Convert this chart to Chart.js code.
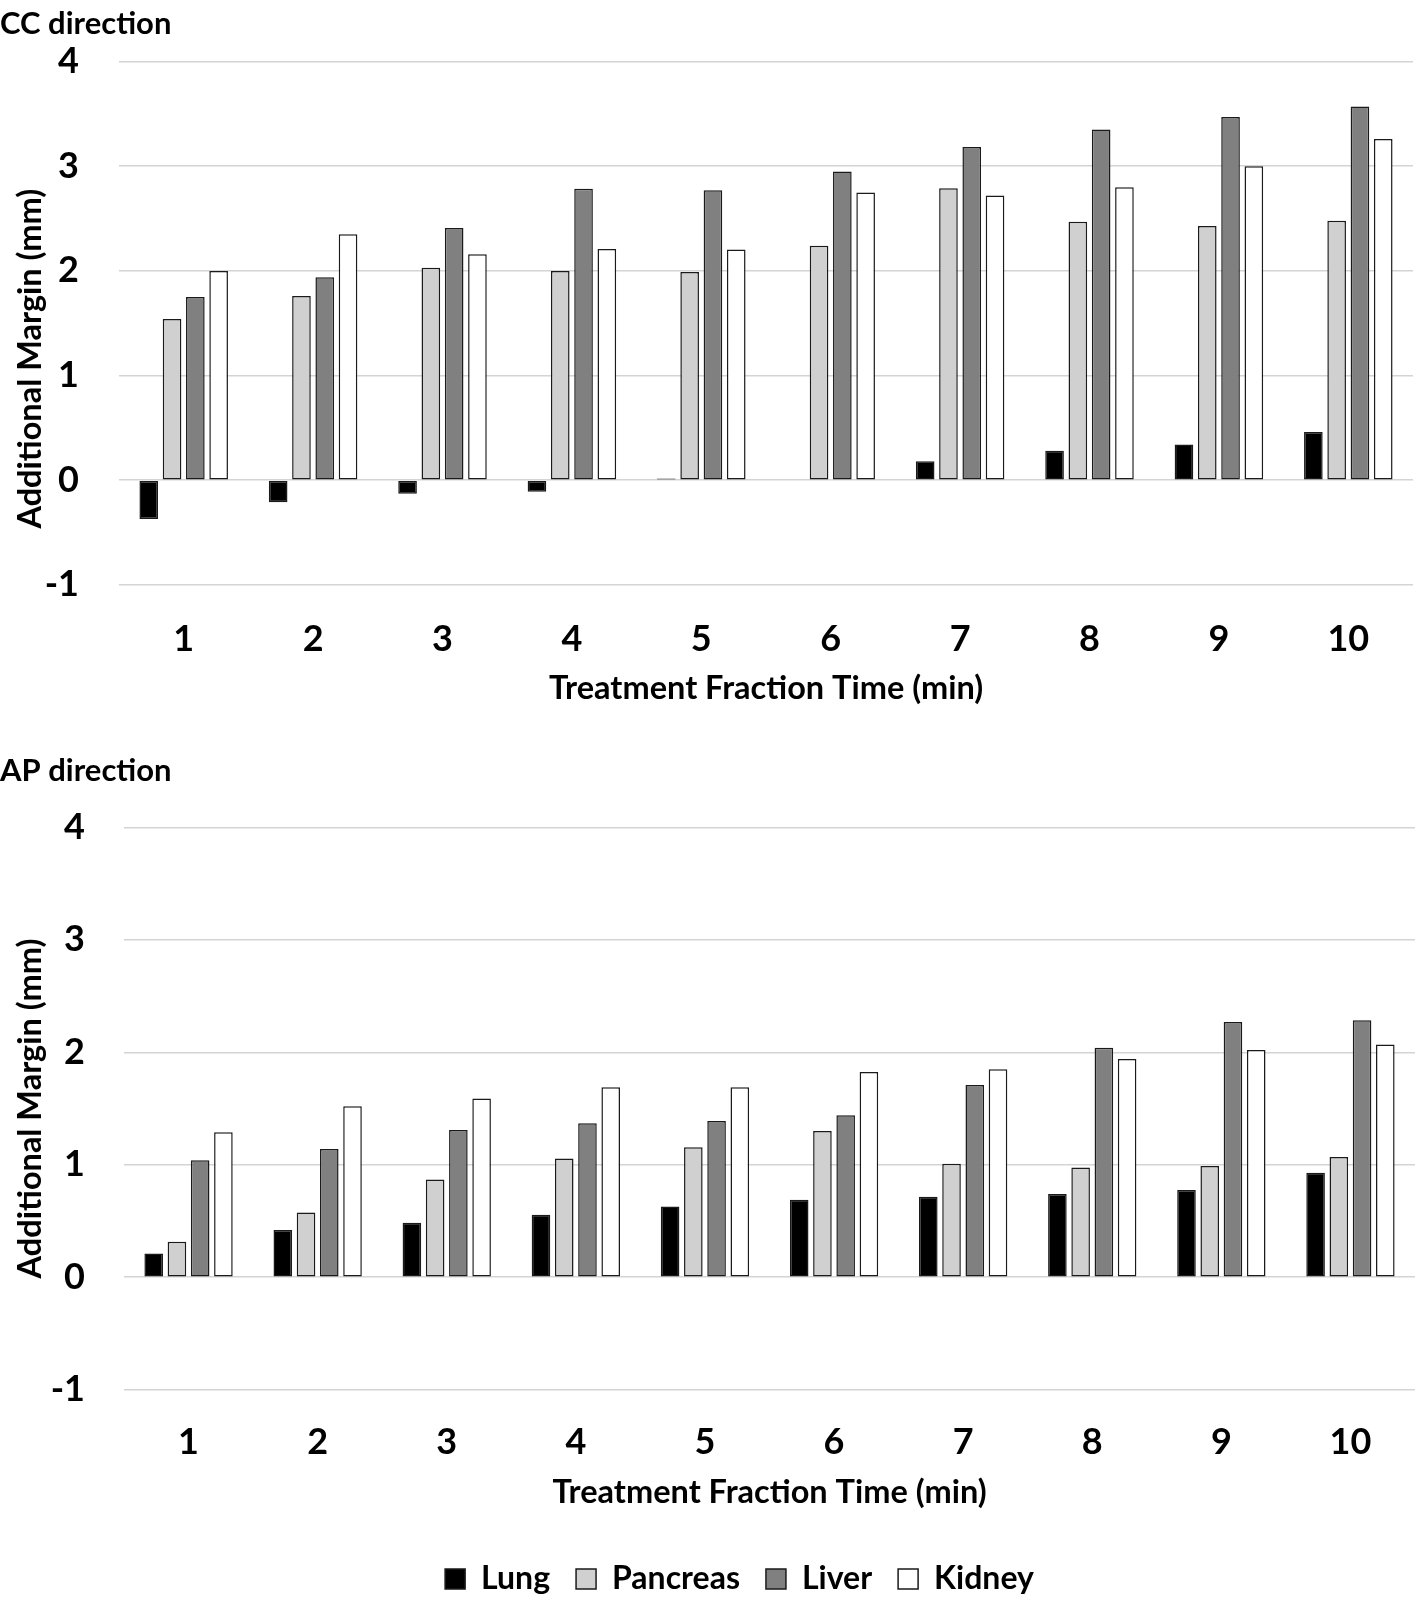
<!DOCTYPE html>
<html><head><meta charset="utf-8">
<script src="https://cdn.jsdelivr.net/npm/chart.js@4.4.0/dist/chart.umd.min.js"></script>
<style>
html,body{margin:0;padding:0;background:#fff;overflow:hidden;width:1418px;height:1599px;}
canvas{display:block;position:absolute;left:0;}
#c1{top:0;}
#c2{top:740px;}
</style></head><body>
<canvas id="c1" width="1418" height="740"></canvas>
<canvas id="c2" width="1418" height="865"></canvas>
<script>
const categories = ['1','2','3','4','5','6','7','8','9','10'];
const seriesNames = ['Lung','Pancreas','Liver','Kidney'];
const yTickValues = [-1, 0, 1, 2, 3, 4];

// CC direction
const ccLung     = [-0.37, -0.21, -0.13, -0.11, 0.015, 0, 0.18, 0.28, 0.34, 0.46];
const ccPancreas = [1.54, 1.76, 2.03, 2.00, 1.99, 2.24, 2.79, 2.47, 2.43, 2.48];
const ccLiver    = [1.75, 1.94, 2.41, 2.785, 2.77, 2.95, 3.185, 3.35, 3.47, 3.57];
const ccKidney   = [2.00, 2.35, 2.16, 2.21, 2.205, 2.75, 2.72, 2.80, 3.00, 3.26];

// AP direction
const apLung     = [0.21, 0.42, 0.485, 0.555, 0.63, 0.69, 0.715, 0.74, 0.775, 0.93];
const apPancreas = [0.315, 0.575, 0.87, 1.055, 1.155, 1.30, 1.01, 0.975, 0.99, 1.07];
const apLiver    = [1.04, 1.14, 1.31, 1.37, 1.39, 1.44, 1.71, 2.04, 2.27, 2.285];
const apKidney   = [1.29, 1.52, 1.59, 1.69, 1.69, 1.825, 1.85, 1.94, 2.02, 2.07];

const fills = ['#000000', '#d0d0d0', '#808080', '#ffffff'];
const FONT = 'Lato';
Chart.defaults.font.family = FONT;
Chart.defaults.color = '#000';

function datasets(arrs) {
  return arrs.map((d, i) => ({
    label: seriesNames[i],
    data: d,
    backgroundColor: fills[i],
    borderColor: '#1a1a1a',
    borderWidth: 1.5,
    borderSkipped: false,
    barPercentage: 0.8,
    categoryPercentage: 0.72
  }));
}

function options(cfg) {
  return {
    responsive: false,
    animation: false,
    layout: { padding: { left: 0, right: cfg.right, top: 0, bottom: 0 } },
    plugins: {
      legend: cfg.legend,
      tooltip: { enabled: false },
      title: {
        display: true, text: cfg.title, align: 'start', color: '#000',
        font: { family: FONT, size: 31, weight: 'bold' },
        padding: { top: cfg.titleTop, bottom: cfg.titleBottom }
      }
    },
    scales: {
      x: {
        grid: { display: false, drawTicks: false },
        border: { display: false },
        ticks: { color: '#000', font: { family: FONT, size: 36, weight: 'bold' }, padding: cfg.xTickPad, maxRotation: 0, autoSkip: false },
        title: { display: true, text: 'Treatment Fraction Time (min)', color: '#000',
                 font: { family: FONT, size: 32.5, weight: 'bold' }, padding: { top: 0, bottom: cfg.xTitlePad } },
        afterFit(s) { s.height = cfg.xHeight; }
      },
      y: {
        min: -1, max: 4,
        afterBuildTicks(s) { s.ticks = yTickValues.map(v => ({ value: v })); },
        ticks: { color: '#000', font: { family: FONT, size: 36, weight: 'bold' }, padding: cfg.yTickPad },
        grid: { color: '#d4d4d4', lineWidth: 1.5, drawTicks: false },
        border: { display: false },
        title: { display: true, text: cfg.yTitle, color: '#000',
                 font: { family: FONT, size: 32.5, weight: 'bold' }, padding: { top: 11, bottom: 0 } },
        afterFit(s) { s.width = cfg.yWidth; }
      }
    }
  };
}

new Chart(document.getElementById('c1'), {
  type: 'bar',
  data: { labels: categories, datasets: datasets([ccLung, ccPancreas, ccLiver, ccKidney]) },
  options: options({
    right: 5, title: 'CC direction', titleTop: 0, titleBottom: 18.6,
    legend: { display: false },
    xTickPad: 32.6, xTitlePad: 31.5, xHeight: 155.2,
    yTickPad: 40, yWidth: 119,
    yTitle: 'Additional Margin (mm)         '
  })
});

const legendShift = {
  id: 'legendShift',
  afterLayout(chart) { chart.legend.left += 32; chart.legend.right += 32; }
};

new Chart(document.getElementById('c2'), {
  type: 'bar',
  data: { labels: categories, datasets: datasets([apLung, apPancreas, apLiver, apKidney]) },
  options: options({
    right: 3, title: 'AP direction', titleTop: 12.4, titleBottom: 37.8,
    legend: { display: true, position: 'bottom',
              labels: { boxWidth: 20, boxHeight: 20, padding: 26, color: '#000',
                        font: { family: FONT, size: 32, weight: 'bold' } } },
    xTickPad: 30.7, xTitlePad: 24.5, xHeight: 147.3,
    yTickPad: 39, yWidth: 124,
    yTitle: 'Additional Margin (mm)'
  }),
  plugins: [legendShift]
});
</script>
</body></html>
